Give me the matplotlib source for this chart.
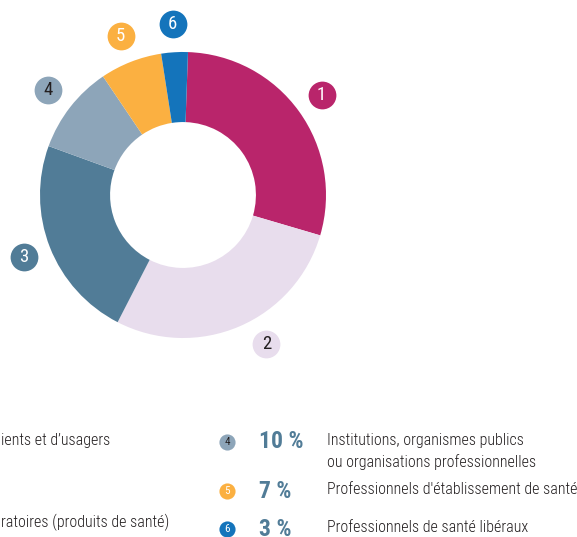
import numpy as np
import matplotlib
matplotlib.use('Agg')
import matplotlib.pyplot as plt

plt.rcParams['font.family'] = ['Roboto Condensed', 'DejaVu Sans']

# donut data
labels_num = ['1', '2', '3', '4', '5', '6']
shares = [29, 28, 23, 10, 7, 3]
colors = ['#B9256B', '#E8DDED', '#517C97', '#8DA5B9', '#FBB041', '#1474BB']
num_colors = ['white', '#231F20', 'white', '#231F20', 'white', 'white']
label_nudge = [0, -6, 0, 0, 0, 0]   # degrees, label 2 sits a bit off the slice middle

# legend (right column, fully visible)
leg_num = ['4', '5', '6']
leg_pct = ['10 %', '7 %', '3 %']
leg_txt = ['Institutions, organismes publics\nou organisations professionnelles',
           "Professionnels d'établissement de santé",
           'Professionnels de santé libéraux']
# left column is cut off by the picture edge
left_txt = ['ients et d’usagers', 'ratoires (produits de santé)']

W, H = 577, 537
fig = plt.figure(figsize=(W/100, H/100), dpi=100)

# donut axes: center at (183,195) px, outer radius 143 px
cx, cy, r_px, L = 183, 195, 143, 1.3
half = r_px*L
ax = fig.add_axes([(cx-half)/W, (H-cy-half)/H, 2*half/W, 2*half/H])
wedges, _ = ax.pie(shares, colors=colors, startangle=88, counterclock=False,
                   radius=1.0, wedgeprops=dict(width=0.49, edgecolor='none'))
ax.set_xlim(-L, L)
ax.set_ylim(-L, L)
ax.set_aspect('equal')
ax.axis('off')

for w, n, c, tc, dn in zip(wedges, labels_num, colors, num_colors, label_nudge):
    ang = np.deg2rad((w.theta1 + w.theta2)/2 - dn)
    x, y = 1.195*np.cos(ang), 1.195*np.sin(ang)
    ax.scatter([x], [y], s=400, color=c, zorder=3, clip_on=False, linewidths=0)
    ax.text(x, y, n, ha='center', va='center', fontsize=13.5, color=tc, zorder=4)

# legend
lax = fig.add_axes([0, 0, 1, 1])
lax.set_xlim(0, W)
lax.set_ylim(H, 0)
lax.axis('off')
leg_y = [442, 491, 529]
for n, p, t, yy in zip(leg_num, leg_pct, leg_txt, leg_y):
    i = labels_num.index(n)
    lax.scatter([227], [yy], s=135, color=colors[i], clip_on=False, linewidths=0)
    lax.text(227, yy, n, ha='center', va='center', fontsize=8, color=num_colors[i])
    lax.text(259, yy, p, ha='left', va='center', fontsize=17, fontweight='bold',
             color='#517C97')
    lines = t.split('\n')
    for k, ln in enumerate(lines):
        lax.text(327, yy - 1 + 21*k, ln, ha='left', va='center', fontsize=11.5,
                 fontweight='light', color='#231F20')

for t, yy in zip(left_txt, [441, 522]):
    lax.text(1, yy, t, ha='left', va='center', fontsize=11.5, fontweight='light',
             color='#231F20')

fig.savefig('out.png', dpi=100)
